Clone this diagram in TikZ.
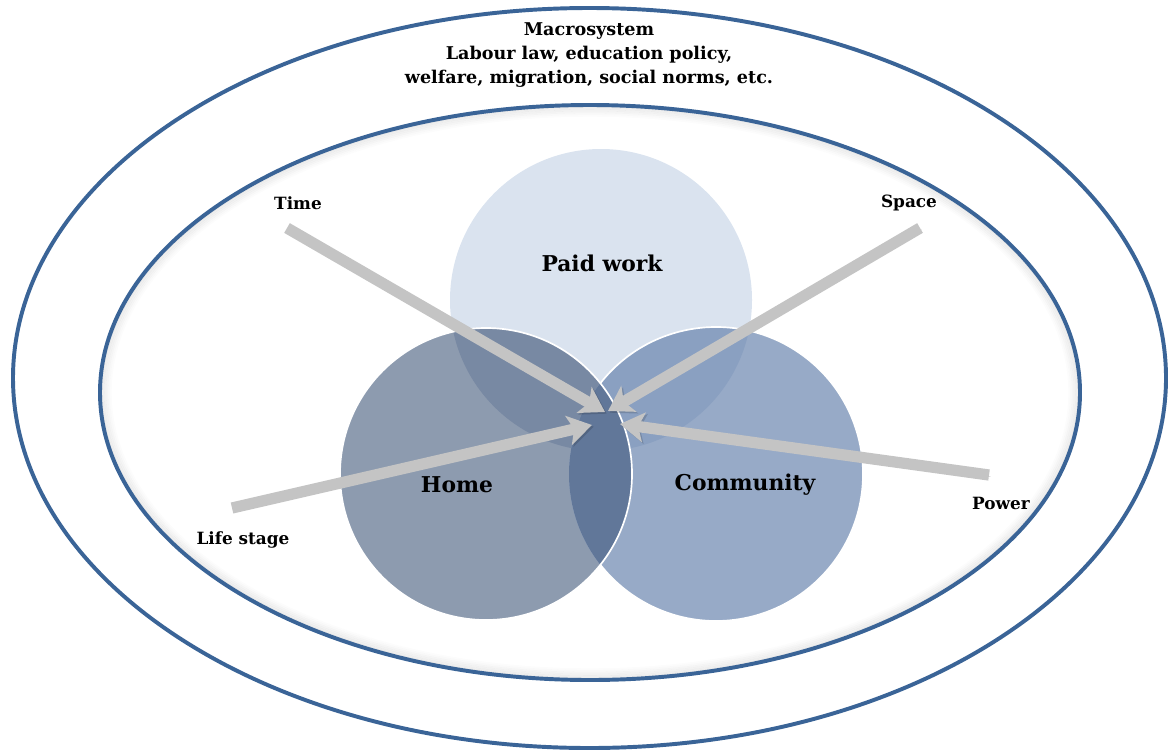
\documentclass[tikz,border=0pt]{standalone}
\usepackage{fontspec}
\setmainfont{DejaVu Serif}
\usetikzlibrary{arrows.meta}
\definecolor{ringblue}{HTML}{3A6497}
\definecolor{paidfill}{HTML}{DAE3EF}
\definecolor{homefill}{HTML}{8D9BAF}
\definecolor{commfill}{HTML}{97AAC7}
\definecolor{homepaid}{HTML}{7889A3}
\definecolor{commpaid}{HTML}{8AA0C1}
\definecolor{centrefill}{HTML}{617799}
\definecolor{arrowgray}{HTML}{C4C4C4}
\begin{document}
\begin{tikzpicture}[x=0.025cm, y=-0.025cm,
    ring/.style={draw=ringblue, line width=2.8pt},
    factor/.style={draw=arrowgray, line width=8pt, -{Stealth[length=17pt, width=21pt, inset=4pt]},
      preaction={draw=black, opacity=0.15, transform canvas={shift={(1.2pt,-1.2pt)}}}},
    factorlabel/.style={font=\bfseries\fontsize{12}{14}\selectfont},
    sphere/.style={font=\bfseries\fontsize{15.5}{18}\selectfont}]
    \useasboundingbox (0,0) rectangle (1168,751);
    \coordinate (outer) at (589.5,378);
    \coordinate (inner) at (590,392.5);
    \coordinate (paid) at (601,300);
    \coordinate (home) at (486,474);
    \coordinate (comm) at (716,474);

    \draw[ring] (outer) ellipse [x radius=576.5, y radius=370];
    \foreach \k in {1,...,6} { \draw[black, opacity={0.09-\k*0.013}, line width=1.3pt] (inner) ellipse [x radius={490-\k*1.8}, y radius={287.5-\k*1.8}]; }
    \draw[ring] (inner) ellipse [x radius=490, y radius=287.5];

    \fill[paidfill] (paid) circle [radius=151];
    \fill[homefill] (home) circle [radius=146];
    \fill[commfill] (comm) circle [radius=147];
    \begin{scope}
      \clip (paid) circle [radius=151];
      \fill[homepaid] (home) circle [radius=146];
      \fill[commpaid] (comm) circle [radius=147];
    \end{scope}
    \begin{scope}
      \clip (home) circle [radius=146];
      \fill[centrefill] (comm) circle [radius=147];
    \end{scope}
    \draw[white, line width=1.2pt] (home) circle [radius=146];
    \draw[white, line width=1.2pt] (comm) ++(-142:147) arc [start angle=-142, end angle=142, radius=147];

    \node[align=center, font=\bfseries\fontsize{12.5}{17}\selectfont] (macro) at (589,55)
      {Macrosystem\\Labour law, education policy,\\welfare, migration, social norms, etc.};
    \node[sphere] (paidwork) at (602,263) {Paid work};
    \node[sphere] (homelabel) at (457,485) {Home};
    \node[sphere] (community) at (745,485) {Community};

    \node[factorlabel] (time) at (298,203) {Time};
    \node[factorlabel] (space) at (909,203) {Space};
    \node[factorlabel] (lifestage) at (243,540) {Life stage};
    \node[factorlabel] (power) at (1001,503) {Power};

    \coordinate (timetail) at (287,228);
    \coordinate (timetip) at (605,412);
    \coordinate (spacetail) at (920,228);
    \coordinate (spacetip) at (608,411);
    \coordinate (lifetail) at (232,508);
    \coordinate (lifetip) at (592,425);
    \coordinate (powertail) at (989,475);
    \coordinate (powertip) at (620,424);
    \foreach \f in {time, space, life, power} { \draw[factor] (\f tail) -- (\f tip); }
  \end{tikzpicture}
\end{document}
